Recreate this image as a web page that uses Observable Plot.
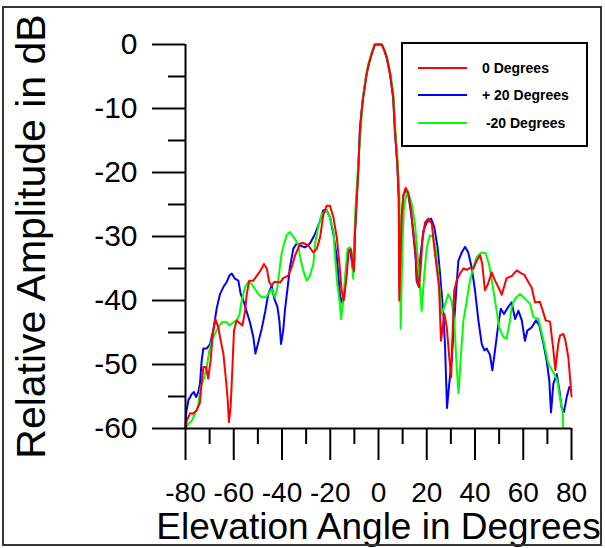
<!DOCTYPE html>
<html>
<head>
<meta charset="utf-8">
<script src="https://cdn.jsdelivr.net/npm/d3@7"></script>
<script src="https://cdn.jsdelivr.net/npm/@observablehq/plot@0.6"></script>
<style>
  html, body { margin: 0; padding: 0; background: #fff; color: #000; }
  #wrap { position: relative; width: 605px; height: 548px; overflow: hidden; font-family: "Liberation Sans", Arial, sans-serif; }
  #border { position: absolute; left: 2px; top: 6px; width: 600px; height: 540px; border: 2px solid #333; box-sizing: border-box; pointer-events: none; }
  #legend { position: absolute; left: 401px; top: 42px; width: 187px; height: 105px; border: 2px solid #000; box-sizing: border-box; background: #fff; }
  .item { position: absolute; left: 0; height: 20px; width: 183px; }
  .item .sw { position: absolute; left: 15px; top: 9px; width: 49px; height: 2px; }
  .item .lb { position: absolute; left: 79px; top: 1px; font-size: 14px; font-weight: bold; white-space: pre; line-height: 18px; }
</style>
</head>
<body>
<div id="wrap">
  <div id="chart"></div>
  <div id="legend"></div>
  <div id="border"></div>
</div>
<script>
// ---- data ----
const seriesNames = ["0 Degrees", "+ 20 Degrees", " -20 Degrees"];
const seriesColors = ["#ff0000", "#0000ff", "#00ff00"];

const angleTicks = [-80, -60, -40, -20, 0, 20, 40, 60, 80];
const angleMinorTicks = [-70, -50, -30, -10, 10, 30, 50, 70];
const dbTicks = [0, -10, -20, -30, -40, -50, -60];
const dbMinorTicks = [-5, -15, -25, -35, -45, -55];

// [angle (deg), relative amplitude (dB)]
const zeroDeg = [
  [-80,-60],[-79.5,-58.8],[-78.1,-57.6],[-77,-57.7],[-75.4,-57.2],[-74,-55.9],[-73.3,-52.8],[-72.6,-50.4],
  [-71.5,-50.4],[-70.6,-52.2],[-69.6,-49.4],[-68.7,-45.2],[-67.6,-42.9],[-66.4,-44.2],[-65.4,-46.3],[-64.3,-48.3],
  [-63.2,-52.5],[-62.5,-55.6],[-62,-59],[-61.3,-56.7],[-60.6,-50.9],[-59.9,-44.7],[-58.8,-43.1],[-57.4,-43.6],
  [-56.4,-43.9],[-55.3,-41.6],[-54.6,-39],[-53.6,-36.9],[-51.9,-36.9],[-49.8,-35.8],[-48.4,-35],[-47.5,-34.3],
  [-46.3,-35],[-45.3,-37.1],[-44.3,-37.7],[-43.2,-37.1],[-41.9,-37.1],[-40.8,-37.2],[-39.5,-36.5],[-37.4,-36.1],
  [-36,-34.8],[-34.6,-33],[-32.5,-31.1],[-31.2,-31],[-29.1,-31.4],[-27,-32.5],[-25.6,-31.9],[-24.2,-30.1],
  [-22.9,-26.7],[-21.5,-25.2],[-20.1,-25.2],[-18.7,-27],[-17.3,-30.1],[-16.2,-34.3],[-15.3,-38.4],[-14.4,-40],
  [-13.2,-36.2],[-12.4,-32.4],[-11.4,-32],[-10.7,-34.5],[-10.2,-35.3],[-9.7,-29],[-9,-23.9],[-8.4,-20],
  [-7.7,-13.4],[-7,-10.5],[-6.3,-8.2],[-4.9,-4.6],[-4,-3],[-2.8,-1.5],[-1.5,0],[0,0],[1.3,0],[2.3,-0.8],
  [3.4,-2],[4.8,-4.6],[6.1,-8.2],[6.8,-13.4],[7.8,-18.6],[8.4,-23.9],[8.6,-40],[9.6,-27],[10.3,-23.6],
  [11.3,-22.4],[12.4,-23.3],[13.5,-25.9],[14.4,-29.1],[15.4,-32.7],[16.2,-37.4],[16.8,-37.9],[17.6,-34.3],
  [18.2,-30.6],[19.3,-27.8],[20.6,-27.2],[22.1,-28],[23.1,-31.7],[24.1,-34.8],[25.1,-37.9],[25.9,-46.3],
  [26.6,-44.2],[27.3,-42.1],[28.3,-44.2],[29.2,-48.3],[30.1,-52],[30.6,-46.3],[31.4,-38.4],[32.4,-36.9],
  [33.8,-35.8],[35.2,-35],[36.6,-35.2],[37.9,-34.9],[39.3,-35],[40.7,-33.8],[42.1,-32.9],[43,-34.3],
  [44.1,-38.4],[45.3,-37.5],[46.9,-35.6],[48.3,-36.9],[49.5,-37.8],[51.1,-39.1],[53.1,-36.5],[55.2,-36.2],
  [57.3,-35.3],[59.4,-35.8],[60.5,-36],[62.1,-37.1],[63.5,-38],[64.9,-40.3],[66.9,-40.2],[68,-41.5],
  [69.3,-43.1],[71.1,-43.3],[72.5,-47.8],[73.3,-50.9],[74.5,-46.8],[75.2,-45.5],[76.6,-45.2],[77.5,-46.3],
  [78.7,-48.9],[79.7,-53.5],[80,-55]
];

const plus20Deg = [
  [-80,-60],[-79.8,-57.7],[-78.8,-55.6],[-77.4,-54.6],[-76.5,-54.3],[-75.6,-55.1],[-74.7,-54.3],[-74,-53],
  [-73.3,-49.4],[-72.6,-47.5],[-71.2,-47.5],[-69.8,-46.8],[-68.5,-44.7],[-67.1,-41.3],[-65.7,-39],[-64.3,-37.9],
  [-62.9,-37.1],[-61.8,-36.1],[-60.8,-35.8],[-59.5,-36.6],[-58.1,-36.9],[-57.1,-39],[-56,-40],[-54.6,-41.8],
  [-53.3,-43.4],[-51.9,-45.7],[-51,-48.3],[-49.8,-46.5],[-48.4,-44.4],[-47,-41.8],[-45.7,-39],[-44.3,-37.7],
  [-43.2,-39.7],[-41.9,-41],[-41.1,-43.1],[-40.4,-46.8],[-39.5,-44.7],[-38.8,-41.6],[-37.8,-38.4],[-36.7,-34.8],
  [-35.3,-31.9],[-33.9,-31.1],[-32.5,-31.4],[-30.5,-31.7],[-28.4,-31.1],[-26.3,-29.6],[-24.2,-27.5],[-22.9,-25.9],
  [-21.5,-25.9],[-20.1,-27],[-18.7,-29.6],[-17.3,-33.2],[-16,-39],[-15.3,-40.3],[-14.3,-39.5],[-13.2,-34.8],
  [-12.5,-31.9],[-11.6,-32.4],[-10.7,-35],[-10.2,-35.5],[-9.7,-29],[-9,-23.9],[-8.4,-19.5],[-7.7,-13.2],
  [-7,-10.3],[-6.3,-8],[-4.9,-4.5],[-4,-3],[-2.8,-1.4],[-1.5,0],[0,0],[1.3,0],[2.3,-0.8],[3.4,-2.1],
  [4.8,-4.7],[6.1,-8.4],[6.8,-13.5],[7.8,-18.8],[8.4,-24],[8.7,-38],[9.6,-27],[10.3,-23.6],[11.3,-22.6],
  [12.4,-23.6],[13.5,-26.3],[14.4,-29.5],[15.4,-33.5],[15.8,-36.9],[16.5,-37.6],[17.2,-33.8],[18.6,-29.1],
  [20,-27.8],[21.8,-27.2],[23.1,-28.5],[24.5,-31.7],[25.5,-35.8],[26.9,-42.1],[27.6,-47.3],[28.4,-56.8],
  [29.2,-53.5],[30.3,-49.4],[31.4,-43.1],[32.4,-37.4],[33.1,-33.8],[34.5,-32.5],[35.9,-31.6],[37.2,-32.5],
  [38.6,-34.8],[40,-38.4],[41.4,-43.1],[42.8,-46.8],[43.9,-47.8],[44.8,-47.5],[46.2,-48.5],[47.2,-50.9],
  [48.3,-47.8],[49.7,-43.6],[50.7,-41.3],[52,-42.1],[53.8,-41],[55.2,-40.3],[56.6,-42.9],[58,-41.6],
  [59.4,-43.1],[60.7,-46.3],[61.7,-44.7],[63.5,-44.2],[65.3,-43.1],[66.7,-43.9],[68.4,-46.8],[69.7,-49.4],
  [70.8,-52.5],[71.5,-57.5],[72.5,-53],[73.9,-51.5],[75,-54.1],[75.9,-56.7],[76.9,-57.4],[78,-55.1],[79.1,-53.5]
];

const minus20Deg = [
  [-80,-60],[-78.8,-59.3],[-77.4,-58.8],[-76.1,-57.7],[-74.7,-56.4],[-73.7,-53.5],[-72.6,-52.5],[-71.2,-50.4],
  [-70.1,-47.8],[-69.1,-46.3],[-67.8,-45.2],[-66.4,-44.2],[-65,-43.4],[-62.9,-43.4],[-61.8,-43.9],[-60.2,-43.4],
  [-58.8,-43.1],[-57.7,-42.3],[-56.7,-40],[-55.3,-37.9],[-54,-37.1],[-52.6,-37.4],[-51.2,-38.2],[-49.8,-39],
  [-48.4,-39.5],[-46.6,-39.5],[-45.7,-39],[-44.3,-38.2],[-42.9,-39.5],[-41.9,-37.9],[-40.8,-34.5],[-40.1,-32.5],
  [-38.1,-29.8],[-36.7,-29.3],[-34.6,-30.4],[-33.2,-31.4],[-32.5,-33.2],[-31.2,-35.3],[-29.8,-36.9],[-28.4,-36.1],
  [-27,-34.3],[-26.3,-31.1],[-25,-28.5],[-23.5,-26.5],[-21.5,-25.9],[-20.1,-27],[-18.7,-29.1],[-18,-33.2],
  [-17.1,-37.4],[-16,-40.5],[-15.5,-42.9],[-14.6,-40],[-13.9,-36.4],[-12.8,-31.9],[-11.8,-31.7],[-11.1,-32.5],
  [-10.5,-36.6],[-10,-30],[-9.6,-26],[-8.4,-18.6],[-7.4,-13.4],[-6.5,-8.5],[-5.2,-4.8],[-4.2,-3],[-3,-1.4],
  [-1.7,0],[0,0],[1.5,0],[2.5,-0.8],[3.6,-2],[5,-4.6],[6.3,-8.2],[7,-13.4],[8,-18.6],[8.7,-24],[9.2,-44.4],
  [9.9,-31.7],[10.5,-26],[11,-24.4],[12.1,-22.8],[13.8,-24.9],[15.1,-28],[16.5,-34.3],[17.9,-41.6],[19,-35.8],
  [20,-31.7],[21.3,-29.8],[22.7,-30.1],[23.7,-31.7],[24.8,-35.8],[26.2,-42.1],[27.3,-41],[28.9,-39],[30.3,-40],
  [31.4,-43.1],[32.4,-50.4],[33.2,-54.5],[34.2,-48.3],[35.2,-43.1],[36.6,-40],[37.9,-36.9],[39.3,-34.8],
  [40.7,-33.2],[42.8,-32.5],[44.4,-32.6],[45.8,-34.3],[47.2,-37.4],[48.5,-40.5],[50,-44.2],[51.7,-45.7],
  [53.1,-46],[54.5,-43.1],[55.2,-41],[56.6,-39.7],[58.7,-39],[60.7,-39.7],[62.8,-40.5],[64.2,-42.6],
  [66.3,-42.9],[68.4,-46.3],[70.4,-49.9],[72.5,-51.2],[74.1,-52.5],[75.2,-55.1],[76.4,-57.7],[76.6,-60]
];

// ---- build ----
const toRows = (arr) => arr.map(([angle, db]) => ({angle, db}));
const font = "'Liberation Sans', Arial, sans-serif";

const chart = Plot.plot({
  width: 605,
  height: 548,
  marginLeft: 185,
  marginRight: 34,
  marginTop: 44,
  marginBottom: 120,
  style: {fontFamily: font, background: "transparent", color: "#000", overflow: "visible"},
  x: {domain: [-80, 80], label: null},
  y: {domain: [-60, 0], label: null},
  marks: [
    Plot.line(toRows(plus20Deg), {x: "angle", y: "db", stroke: seriesColors[1], strokeWidth: 2}),
    Plot.line(toRows(minus20Deg), {x: "angle", y: "db", stroke: seriesColors[2], strokeWidth: 2}),
    Plot.line(toRows(zeroDeg), {x: "angle", y: "db", stroke: seriesColors[0], strokeWidth: 2}),
    Plot.ruleX([-80], {y1: -60, y2: 0, strokeWidth: 2}),
    Plot.ruleY([-60], {x1: -80, x2: 80, strokeWidth: 2}),
    Plot.axisY(dbTicks, {tickSize: 33, tickPadding: 15, fontSize: 30, strokeWidth: 2, tickFormat: d => String(d), label: null}),
    Plot.axisY(dbMinorTicks, {tickSize: 17, strokeWidth: 2, tickFormat: () => "", label: null}),
    Plot.axisX(angleTicks, {tickSize: 32, tickPadding: 22, fontSize: 28, strokeWidth: 2, tickFormat: d => String(d), label: null}),
    Plot.axisX(angleMinorTicks, {tickSize: 16, strokeWidth: 2, tickFormat: () => "", label: null}),
    Plot.text(["Relative Amplitude in dB"], {frameAnchor: "left", rotate: -90, dx: -154, fontSize: 41, textAnchor: "middle", lineAnchor: "middle"}),
    Plot.text(["Elevation Angle in Degrees"], {frameAnchor: "bottom", dy: 99, fontSize: 37, textAnchor: "middle", lineAnchor: "middle"})
  ]
});
document.getElementById("chart").appendChild(chart);

// legend
const legend = document.getElementById("legend");
const legendTops = [14, 41, 69];
seriesNames.forEach((name, i) => {
  const it = document.createElement("div");
  it.className = "item";
  it.style.top = legendTops[i] + "px";
  const sw = document.createElement("div");
  sw.className = "sw";
  sw.style.background = seriesColors[i];
  const lb = document.createElement("div");
  lb.className = "lb";
  lb.textContent = name;
  it.appendChild(sw); it.appendChild(lb);
  legend.appendChild(it);
});
</script>
</body>
</html>
